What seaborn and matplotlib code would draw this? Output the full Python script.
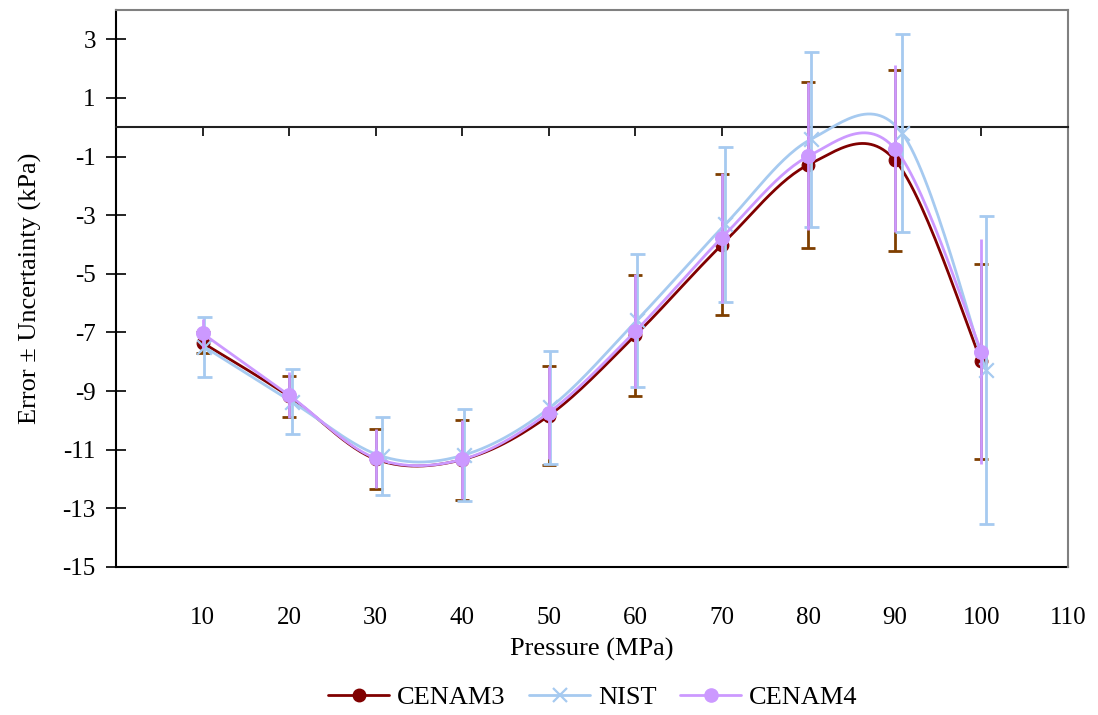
import numpy as np
import matplotlib
matplotlib.use("Agg")
import matplotlib.pyplot as plt
from matplotlib.lines import Line2D
import seaborn as sns

# -------------------------------
# Data
# -------------------------------
pressure = [10, 20, 30, 40, 50, 60, 70, 80, 90, 100]
nist_pressure = [10.2, 20.3, 30.7, 40.2, 50.2, 60.2, 70.4, 80.3, 90.8, 100.5]

cenam3 = [-7.35, -9.18, -11.32, -11.34, -9.84, -7.10, -4.01, -1.28, -1.12, -7.99]
cenam3_unc = [0.36, 0.71, 1.02, 1.36, 1.68, 2.06, 2.41, 2.83, 3.09, 3.33]

nist = [-7.49, -9.36, -11.22, -11.18, -9.55, -6.58, -3.31, -0.41, -0.19, -8.27]
nist_unc = [1.02, 1.12, 1.33, 1.58, 1.93, 2.27, 2.65, 2.98, 3.38, 5.26]

cenam4 = [-7.03, -9.14, -11.29, -11.33, -9.73, -6.96, -3.77, -0.99, -0.73, -7.65]
cenam4_unc = [0.50, 0.78, 1.00, 1.36, 1.60, 1.95, 2.21, 2.52, 2.85, 3.83]

x_ticks = [10, 20, 30, 40, 50, 60, 70, 80, 90, 100, 110]
y_ticks = [-15, -13, -11, -9, -7, -5, -3, -1, 1, 3]


def smooth(x, y, n=30):
    # Excel-style smoothed line (Bezier through the points)
    pts = np.column_stack([x, y]).astype(float)
    pad = np.vstack([pts[0], pts, pts[-1]])
    out = []
    t = np.linspace(0, 1, n)[:, None]
    for i in range(len(pts) - 1):
        p0, p1, p2, p3 = pad[i], pad[i + 1], pad[i + 2], pad[i + 3]
        c1 = p1 + (p2 - p0) / 6
        c2 = p2 - (p3 - p1) / 6
        b = (1 - t) ** 3 * p1 + 3 * (1 - t) ** 2 * t * c1 + 3 * (1 - t) * t ** 2 * c2 + t ** 3 * p2
        out.append(b if i == 0 else b[1:])
    out = np.vstack(out)
    return out[:, 0], out[:, 1]


sns.set_style("white")
plt.rcParams["font.family"] = ["Liberation Serif", "DejaVu Serif"]
plt.rcParams["text.color"] = "black"
plt.rcParams["axes.labelcolor"] = "black"
plt.rcParams["xtick.color"] = "black"
plt.rcParams["ytick.color"] = "black"

c3 = "#800000"
c3_err = "#7f3f00"
cn = "#a6caf0"
c4 = "#cc99ff"

fig = plt.figure(figsize=(10.98, 7.15), dpi=100)
ax = fig.add_axes([0.1056, 0.207, 0.8671, 0.779])

# CENAM3
ax.errorbar(pressure, cenam3, yerr=cenam3_unc, fmt="none", ecolor=c3_err,
            elinewidth=2, capsize=4.8, capthick=2, zorder=2)
sx, sy = smooth(pressure, cenam3)
sns.lineplot(x=sx, y=sy, sort=False, estimator=None, color=c3, lw=2, ax=ax, zorder=3)
sns.scatterplot(x=pressure, y=cenam3, marker="o", s=85, color=c3, edgecolor=c3, ax=ax, zorder=4)

# NIST
ax.errorbar(nist_pressure, nist, yerr=nist_unc, fmt="none", ecolor=cn,
            elinewidth=2, capsize=5.4, capthick=2, zorder=5)
sx, sy = smooth(nist_pressure, nist)
sns.lineplot(x=sx, y=sy, sort=False, estimator=None, color=cn, lw=2, ax=ax, zorder=6)
sns.scatterplot(x=nist_pressure, y=nist, marker="x", s=110, color=cn, linewidth=1.6, ax=ax, zorder=7)

# CENAM4
ax.errorbar(pressure, cenam4, yerr=cenam4_unc, fmt="none", ecolor=c4,
            elinewidth=2, capsize=0, zorder=8)
sx, sy = smooth(pressure, cenam4)
sns.lineplot(x=sx, y=sy, sort=False, estimator=None, color=c4, lw=2, ax=ax, zorder=9)
sns.scatterplot(x=pressure, y=cenam4, marker="o", s=100, color=c4, edgecolor=c4, ax=ax, zorder=10)

# axes
ax.set_xlim(0, 110)
ax.set_ylim(-15, 4)
ax.set_xticks(x_ticks)
ax.set_yticks(y_ticks)
ax.set_yticklabels([str(v) for v in y_ticks])

ax.spines["bottom"].set_position(("data", 0))
ax.spines["bottom"].set_color("#202020")
ax.spines["bottom"].set_linewidth(1.5)
ax.spines["left"].set_color("black")
ax.spines["left"].set_linewidth(1.5)
for s in ["top", "right"]:
    ax.spines[s].set_color("#808080")
    ax.spines[s].set_linewidth(1.5)

ax.tick_params(axis="x", direction="out", length=6.5, width=1.2, color="black",
               labelbottom=False, bottom=True)
ax.tick_params(axis="y", direction="inout", length=15, width=1.2, color="black",
               labelsize=18, pad=7, left=True)

sec = ax.secondary_xaxis("bottom")
sec.set_xticks(x_ticks)
sec.set_xticklabels([str(v) for v in x_ticks])
sec.tick_params(length=0, pad=29, labelsize=18)
sec.spines["bottom"].set_color("black")
sec.spines["bottom"].set_linewidth(1.5)
sec.set_xlabel("Pressure (MPa)", fontsize=19, labelpad=6)

ax.set_ylabel("Error \u00b1 Uncertainty (kPa)", fontsize=19)
ax.yaxis.set_label_coords(-0.078, 0.5)
ax.set_xlabel("")

handles = [
    Line2D([], [], color=c3, lw=2, marker="o", ms=9),
    Line2D([], [], color=cn, lw=2, marker="x", ms=10, mew=1.6),
    Line2D([], [], color=c4, lw=2, marker="o", ms=9.5),
]
fig.legend(handles, ["CENAM3", "NIST", "CENAM4"], loc="center", bbox_to_anchor=(0.54, 0.025),
           ncol=3, frameon=False, fontsize=19, handlelength=2.3, handletextpad=0.3,
           columnspacing=0.9)

fig.savefig("out.png", dpi=100)
